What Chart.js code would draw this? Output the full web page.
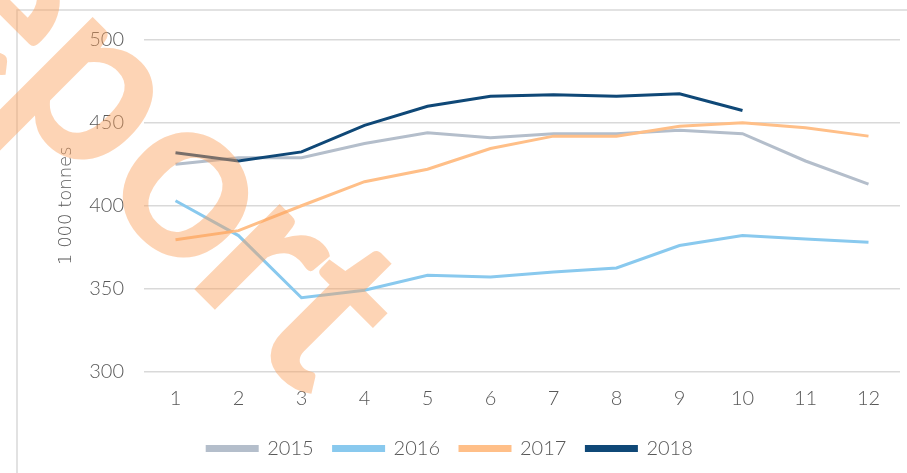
<!DOCTYPE html>
<html>
<head>
<meta charset="utf-8">
<script src="https://cdn.jsdelivr.net/npm/chart.js@4"></script>
<style>
  html, body { margin: 0; padding: 0; background: #fff; }
  #wrap { width: 907px; height: 473px; position: relative; }
</style>
</head>
<body>
<div id="wrap"><canvas id="myChart"></canvas></div>
<script>
const months = ["1", "2", "3", "4", "5", "6", "7", "8", "9", "10", "11", "12"];
const years = ["2015", "2016", "2017", "2018"];
const s2015 = [425, 429, 429, 437.5, 444, 441, 443.5, 443.5, 445.5, 443.5, 427, 413];
const s2016 = [403, 382, 344.5, 349, 358, 357, 360, 362.5, 376, 382, 380, 378];
const s2017 = [379.5, 385, 400, 414.5, 422, 434.5, 442, 442, 448, 450, 447, 442];
const s2018 = [432, 427, 432.5, 448.5, 460, 466, 467, 466, 467.5, 457.5, null, null];
const yTicks = [300, 350, 400, 450, 500];

const colors = ["#B4BECB", "#89C9EE", "#FFBF88", "#0F4877"];
const series = [s2015, s2016, s2017, s2018];

const FONT = "Lato, 'Open Sans', sans-serif";

// watermark letters and where their centres fall along the 45deg baseline
const markLetters = ["R", "e", "p", "o", "r", "t"];
const markPos = [-140, 3, 133, 269, 378, 458];

const decor = {
  id: "decor",
  beforeDraw(chart) {
    const c = chart.ctx;
    c.save();
    c.strokeStyle = "#D9D9D9";
    c.lineWidth = 1.5;
    c.strokeRect(17, 10, 1000, 1000);
    c.restore();
  },
  afterDraw(chart) {
    const c = chart.ctx;
    c.save();
    c.rotate(Math.PI / 4);
    c.font = "bold 235px Lato";
    c.fillStyle = "rgba(250,160,90,0.45)";
    c.textBaseline = "alphabetic";
    markLetters.forEach((ch, i) => {
      const m = c.measureText(ch);
      const mid = (m.actualBoundingBoxRight - m.actualBoundingBoxLeft) / 2;
      c.fillText(ch, markPos[i] - mid, 67);
    });
    c.restore();
  }
};

new Chart(document.getElementById("myChart"), {
  type: "line",
  data: {
    labels: months,
    datasets: years.map((y, i) => ({
      label: y,
      data: series[i],
      borderColor: colors[i],
      backgroundColor: colors[i],
      borderWidth: 3,
      pointRadius: 0,
      tension: 0,
      order: 3 - i, // later years on top
    })),
  },
  options: {
    responsive: true,
    maintainAspectRatio: false,
    animation: false,
    layout: { padding: { top: 40, right: 7, left: 0, bottom: 4.5 } },
    scales: {
      x: {
        offset: true,
        grid: { display: false, drawTicks: false },
        border: { display: false },
        ticks: { color: "#595959", font: { family: FONT, size: 20, weight: "300" }, padding: 15, maxRotation: 0 },
        afterFit: (scale) => { scale.height = 47; },
      },
      y: {
        min: 300,
        max: 500,
        afterBuildTicks: (scale) => { scale.ticks = yTicks.map((v) => ({ value: v })); },
        grid: { color: "#D9D9D9", lineWidth: 1.5, drawTicks: false },
        border: { display: false },
        ticks: { color: "#595959", font: { family: FONT, size: 20, weight: "300" }, padding: 20 },
        title: {
          display: true,
          text: "1 000 tonnes",
          color: "#595959",
          font: { family: "'DejaVu Sans'", size: 18, weight: "200" },
          padding: { top: 56, bottom: 0 },
        },
        afterFit: (scale) => { scale.width = 144; },
      },
    },
    plugins: {
      legend: {
        position: "bottom",
        labels: {
          boxWidth: 50,
          boxHeight: 4,
          padding: 20,
          color: "#595959",
          font: { family: FONT, size: 20, weight: "300" },
          sort: (a, b) => a.datasetIndex - b.datasetIndex,
        },
      },
      tooltip: { enabled: false },
    },
  },
  plugins: [decor],
});
</script>
</body>
</html>
